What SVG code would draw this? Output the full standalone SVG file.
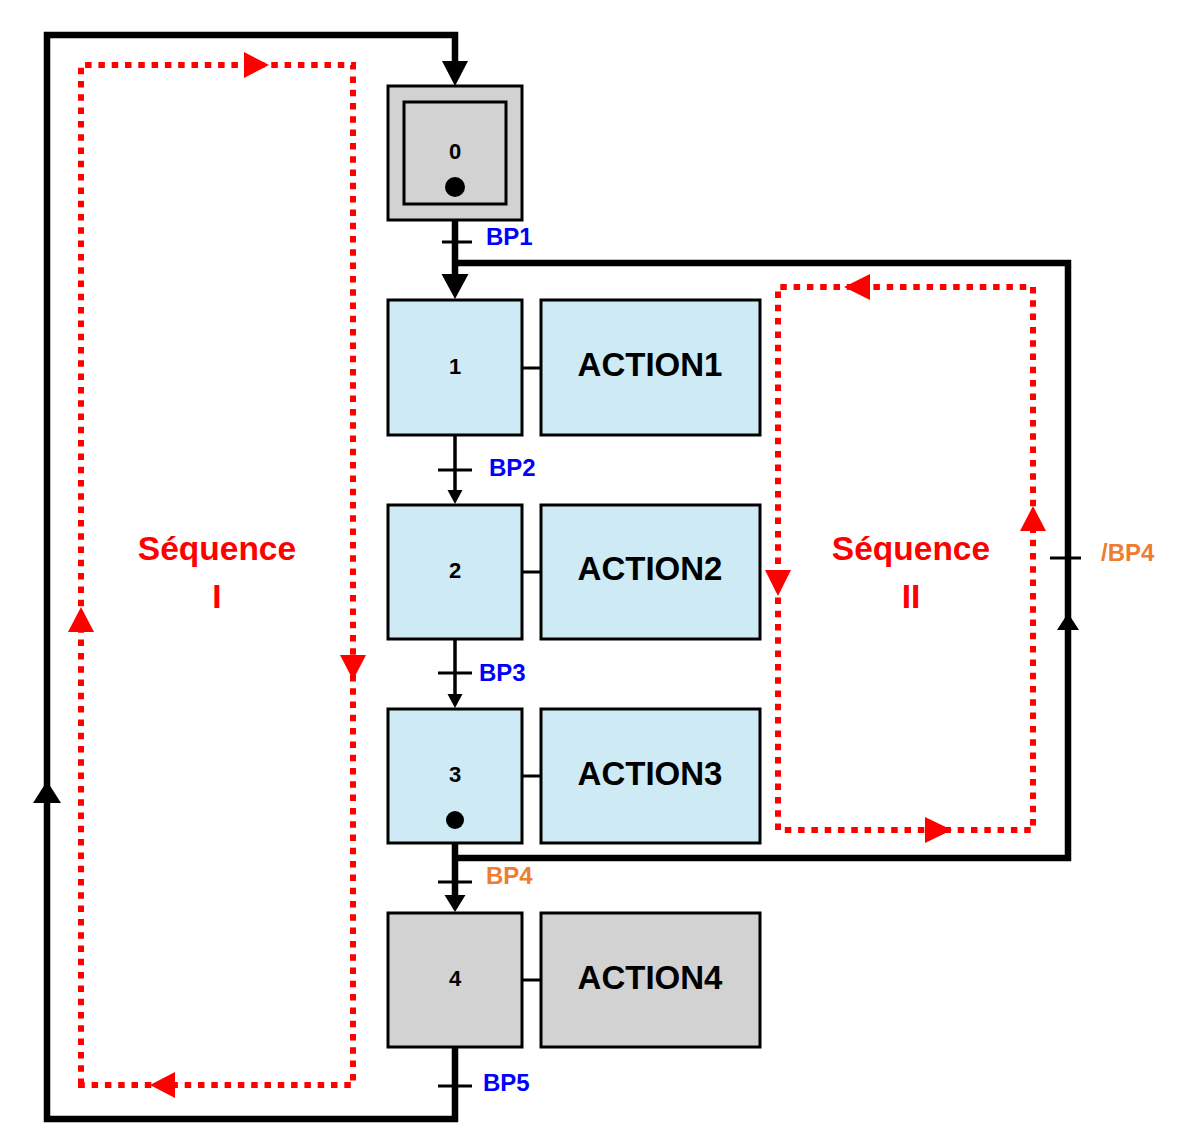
<svg xmlns="http://www.w3.org/2000/svg" width="1190" height="1145" viewBox="0 0 1190 1145">
<style>
.step{stroke:#000;stroke-width:3;}
.blue{fill:#cdeaf5;}
.gray{fill:#d2d2d2;}
.num{font-family:"Liberation Sans",Arial,sans-serif;font-weight:bold;font-size:22px;fill:#000;text-anchor:middle;}
.act{font-family:"Liberation Sans",Arial,sans-serif;font-weight:bold;font-size:33px;fill:#000;text-anchor:middle;}
.tr{font-family:"Liberation Sans",Arial,sans-serif;font-weight:bold;font-size:24px;}
.bl{fill:#0000ff;}
.or{fill:#ed7d31;}
.seq{font-family:"Liberation Sans",Arial,sans-serif;font-weight:bold;font-size:33.5px;fill:#ff0000;text-anchor:middle;}
.thick{fill:none;stroke:#000;stroke-width:6.5;}
.thin{fill:none;stroke:#000;stroke-width:3.5;}
.tick{stroke:#000;stroke-width:3;}
.dot{fill:none;stroke:#ff0000;stroke-width:6;stroke-dasharray:6.5 6.8;}
.rarr{fill:#ff0000;}
.karr{fill:#000;}
</style>
<rect width="1190" height="1145" fill="#fff"/>
<g id="connectors">
  <path class="thick" d="M455,1048 V1119 H47 V35 H455 V70"/>
  <path class="thick" d="M455,221 V280"/>
  <path class="thick" d="M455,858 H1068 V263 H455"/>
  <path class="thin" d="M455,436 V495"/>
  <path class="thin" d="M455,640 V699"/>
  <path class="thick" d="M455,844 V900"/>
  <polygon class="karr" points="442,61 468,61 455,86"/>
  <polygon class="karr" points="441.5,274 468.5,274 455,299"/>
  <polygon class="karr" points="447.5,490 462.5,490 455,504"/>
  <polygon class="karr" points="447.5,694 462.5,694 455,708"/>
  <polygon class="karr" points="444.5,895 465.5,895 455,912"/>
  <polygon class="karr" points="33,803 61,803 47,781"/>
  <polygon class="karr" points="1057,630 1079,630 1068,613"/>
  <line class="tick" x1="442" y1="242" x2="472" y2="242"/>
  <line class="tick" x1="438" y1="470" x2="472" y2="470"/>
  <line class="tick" x1="438" y1="673" x2="472" y2="673"/>
  <line class="tick" x1="438" y1="882" x2="472" y2="882"/>
  <line class="tick" x1="438" y1="1086" x2="472" y2="1086"/>
  <line class="tick" x1="1050" y1="558" x2="1081" y2="558"/>
  <line class="tick" x1="523" y1="368" x2="540" y2="368"/>
  <line class="tick" x1="523" y1="572" x2="540" y2="572"/>
  <line class="tick" x1="523" y1="776" x2="540" y2="776"/>
  <line class="tick" x1="523" y1="980" x2="540" y2="980"/>
</g>
<g id="labels">
  <text class="tr bl" x="486" y="245">BP1</text>
  <text class="tr bl" x="489" y="476">BP2</text>
  <text class="tr bl" x="479" y="681">BP3</text>
  <text class="tr or" x="486" y="884">BP4</text>
  <text class="tr bl" x="483" y="1091">BP5</text>
  <text class="tr or" x="1101" y="561">/BP4</text>
</g>
<g id="seq1">
  <path class="dot" d="M81,1085 V65 H353 V1085 Z"/>
  <polygon class="rarr" points="244,52 244,78 269,65"/>
  <polygon class="rarr" points="340,655 366,655 353,680"/>
  <polygon class="rarr" points="175,1072 175,1098 150,1085"/>
  <polygon class="rarr" points="68,632 94,632 81,607"/>
  <text class="seq" x="217" y="560">Séquence</text>
  <text class="seq" x="217" y="608">I</text>
</g>
<g id="seq2">
  <path class="dot" d="M778,830 V287 H1033 V830 Z"/>
  <polygon class="rarr" points="870,274 870,300 844,287"/>
  <polygon class="rarr" points="765,570 791,570 778,596"/>
  <polygon class="rarr" points="925,817 925,843 952,830"/>
  <polygon class="rarr" points="1020,531 1046,531 1033,506"/>
  <text class="seq" x="911" y="560">Séquence</text>
  <text class="seq" x="911" y="608">II</text>
</g>
<g id="step0">
  <rect class="step gray" x="388" y="86" width="134" height="134"/>
  <rect class="step gray" x="404" y="102" width="102" height="102"/>
  <text class="num" x="455" y="159">0</text>
  <circle cx="455" cy="187" r="10"/>
</g>
<g id="step1">
  <rect class="step blue" x="388" y="300" width="134" height="135"/>
  <text class="num" x="455" y="374">1</text>
</g>
<g id="action1">
  <rect class="step blue" x="541" y="300" width="219" height="135"/>
  <text class="act" x="650" y="376">ACTION1</text>
</g>
<g id="step2">
  <rect class="step blue" x="388" y="505" width="134" height="134"/>
  <text class="num" x="455" y="578">2</text>
</g>
<g id="action2">
  <rect class="step blue" x="541" y="505" width="219" height="134"/>
  <text class="act" x="650" y="580">ACTION2</text>
</g>
<g id="step3">
  <rect class="step blue" x="388" y="709" width="134" height="134"/>
  <text class="num" x="455" y="782">3</text>
  <circle cx="455" cy="820" r="9"/>
</g>
<g id="action3">
  <rect class="step blue" x="541" y="709" width="219" height="134"/>
  <text class="act" x="650" y="785">ACTION3</text>
</g>
<g id="step4">
  <rect class="step gray" x="388" y="913" width="134" height="134"/>
  <text class="num" x="455" y="986">4</text>
</g>
<g id="action4">
  <rect class="step gray" x="541" y="913" width="219" height="134"/>
  <text class="act" x="650" y="989">ACTION4</text>
</g>
</svg>
